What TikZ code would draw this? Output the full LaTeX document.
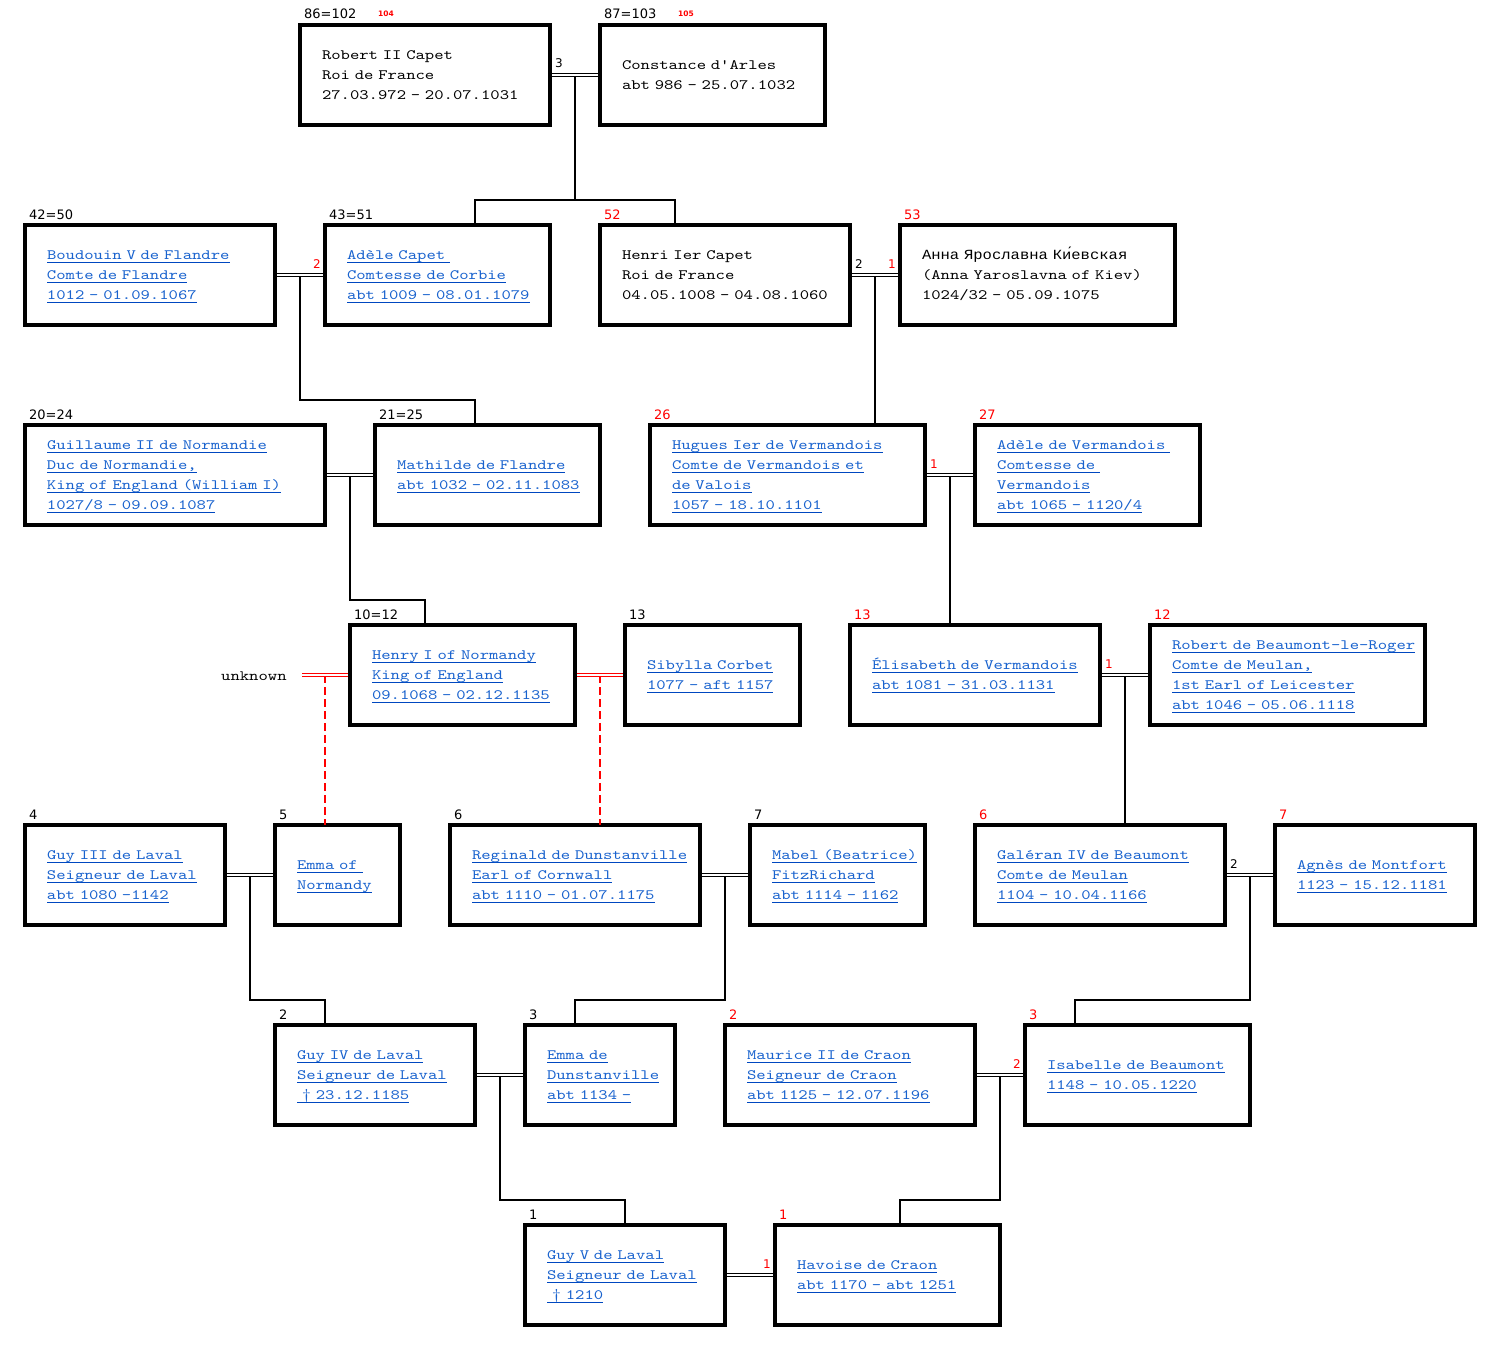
\documentclass[tikz,border=0pt]{standalone}
\usepackage{fontspec}
\setmonofont[FakeStretch=1.245]{lmmono10-regular.otf}
\setsansfont{DejaVu Sans}
\newfontfamily\cyrmono[FakeStretch=1.11]{Liberation Mono}
\usetikzlibrary{calc}
\definecolor{GedBlue}{RGB}{24,98,206}
\definecolor{GedLine}{RGB}{0,72,192}
\definecolor{GedRed}{RGB}{255,0,0}
\newsavebox\gedbox
\newcommand\gedstrut{\rule[-4.3pt]{0pt}{17.3pt}}
\newcommand\gedlink[1]{\sbox\gedbox{\color{GedBlue}#1}\gedstrut\rlap{\color{GedLine}\rule[-3.5pt]{\wd\gedbox}{1pt}}\usebox\gedbox}
\newcommand\gedtext[1]{\gedstrut\mbox{#1}}
\tikzset{
  ged/box/.style={
    draw=black,
    line width=3.5pt,
    anchor=north west,
    outer sep=0pt,
    minimum width=#1,
    minimum height=100pt,
    inner xsep=22pt,
    inner ysep=0pt,
    text width=#1-44pt,
    align=left,
    font=\ttfamily\fontsize{14.3}{20}\selectfont
  },
  ged/tag/.style={anchor=base west, inner sep=0pt, font=\sffamily\fontsize{13}{15}\selectfont},
  ged/tagred/.style={ged/tag, text=GedRed},
  ged/ref/.style={anchor=base west, inner sep=0pt, text=GedRed, font=\sffamily\bfseries\fontsize{7.5}{9}\selectfont},
  ged/ord/.style={inner sep=0pt, font=\sffamily\fontsize{12}{14}\selectfont},
  ged/plain/.style={inner sep=0pt, font=\ttfamily\fontsize{14.3}{20}\selectfont},
  ged/wed/.style={draw=black, line width=1pt, double=white, double distance=1.5pt, shorten <=1.75pt, shorten >=1.75pt},
  ged/wedred/.style={ged/wed, draw=GedRed},
  ged/drop/.style={draw=black, line width=1.8pt},
  ged/dropred/.style={draw=GedRed, line width=1.6pt, dash pattern=on 8pt off 4pt}
}

\begin{document}
\begin{tikzpicture}[x=1pt,y=-1pt]
  \path[use as bounding box, fill=white] (0,0) rectangle (1501,1351);

  % generation 6
  \node[ged/box=250pt] (robert) at (300,25) {\gedtext{Robert II Capet}\\\gedtext{Roi de France}\\\gedtext{27.03.972 - 20.07.1031}};
  \node[ged/box=225pt] (constance) at (600,25) {\gedtext{Constance d'Arles}\\\gedtext{abt 986 - 25.07.1032}};
  \node[ged/tag] (t86) at ([xshift=4pt,yshift=6pt]robert.north west) {86=102};
  \node[ged/ref] (r104) at ([xshift=78pt,yshift=8pt]robert.north west) {104};
  \node[ged/tag] (t87) at ([xshift=4pt,yshift=6pt]constance.north west) {87=103};
  \node[ged/ref] (r105) at ([xshift=78pt,yshift=8pt]constance.north west) {105};

  % generation 5
  \node[ged/box=250pt] (boudouin) at (25,225) {\gedlink{Boudouin V de Flandre}\\\gedlink{Comte de Flandre}\\\gedlink{1012 - 01.09.1067}};
  \node[ged/box=225pt] (adele) at (325,225) {\gedlink{Adèle Capet }\\\gedlink{Comtesse de Corbie}\\\gedlink{abt 1009 - 08.01.1079}};
  \node[ged/box=250pt] (henri) at (600,225) {\gedtext{Henri Ier Capet}\\\gedtext{Roi de France}\\\gedtext{04.05.1008 - 04.08.1060}};
  \node[ged/box=275pt] (anna) at (900,225) {\gedtext{\cyrmono\fontsize{14}{20}\selectfont Анна Ярославна Ки́евская}\\\gedtext{(Anna Yaroslavna of Kiev)}\\\gedtext{1024/32 - 05.09.1075}};
  \node[ged/tag] (t42) at ([xshift=4pt,yshift=6pt]boudouin.north west) {42=50};
  \node[ged/tag] (t43) at ([xshift=4pt,yshift=6pt]adele.north west) {43=51};
  \node[ged/tagred] (t52) at ([xshift=4pt,yshift=6pt]henri.north west) {52};
  \node[ged/tagred] (t53) at ([xshift=4pt,yshift=6pt]anna.north west) {53};

  % generation 4
  \node[ged/box=300pt] (guillaume) at (25,425) {\gedlink{Guillaume II de Normandie}\\\gedlink{Duc de Normandie,}\\\gedlink{King of England (William I)}\\\gedlink{1027/8 - 09.09.1087}};
  \node[ged/box=225pt] (mathilde) at (375,425) {\gedlink{Mathilde de Flandre}\\\gedlink{abt 1032 - 02.11.1083}};
  \node[ged/box=275pt] (hugues) at (650,425) {\gedlink{Hugues Ier de Vermandois}\\\gedlink{Comte de Vermandois et}\\\gedlink{de Valois}\\\gedlink{1057 - 18.10.1101}};
  \node[ged/box=225pt] (adelev) at (975,425) {\gedlink{Adèle de Vermandois }\\\gedlink{Comtesse de }\\\gedlink{Vermandois}\\\gedlink{abt 1065 - 1120/4}};
  \node[ged/tag] (t20) at ([xshift=4pt,yshift=6pt]guillaume.north west) {20=24};
  \node[ged/tag] (t21) at ([xshift=4pt,yshift=6pt]mathilde.north west) {21=25};
  \node[ged/tagred] (t26) at ([xshift=4pt,yshift=6pt]hugues.north west) {26};
  \node[ged/tagred] (t27) at ([xshift=4pt,yshift=6pt]adelev.north west) {27};

  % generation 3
  \node[ged/box=225pt] (henry) at (350,625) {\gedlink{Henry I of Normandy}\\\gedlink{King of England}\\\gedlink{09.1068 - 02.12.1135}};
  \node[ged/box=175pt] (sibylla) at (625,625) {\gedlink{Sibylla Corbet}\\\gedlink{1077 - aft 1157}};
  \node[ged/box=250pt] (elisabeth) at (850,625) {\gedlink{Élisabeth de Vermandois}\\\gedlink{abt 1081 - 31.03.1131}};
  \node[ged/box=275pt] (robertb) at (1150,625) {\gedlink{Robert de Beaumont-le-Roger}\\\gedlink{Comte de Meulan,}\\\gedlink{1st Earl of Leicester}\\\gedlink{abt 1046 - 05.06.1118}};
  \node[ged/tag] (t10) at ([xshift=4pt,yshift=6pt]henry.north west) {10=12};
  \node[ged/tag] (t13) at ([xshift=4pt,yshift=6pt]sibylla.north west) {13};
  \node[ged/tagred] (t13r) at ([xshift=4pt,yshift=6pt]elisabeth.north west) {13};
  \node[ged/tagred] (t12) at ([xshift=4pt,yshift=6pt]robertb.north west) {12};
  \node[ged/plain, anchor=base west] (unknown) at (221,680) {unknown};
  \coordinate (unk) at (300,675);

  % generation 2
  \node[ged/box=200pt] (guy3) at (25,825) {\gedlink{Guy III de Laval}\\\gedlink{Seigneur de Laval}\\\gedlink{abt 1080 -1142}};
  \node[ged/box=125pt] (emma) at (275,825) {\gedlink{Emma of }\\\gedlink{Normandy}};
  \node[ged/box=250pt] (reginald) at (450,825) {\gedlink{Reginald de Dunstanville}\\\gedlink{Earl of Cornwall}\\\gedlink{abt 1110 - 01.07.1175}};
  \node[ged/box=175pt] (mabel) at (750,825) {\gedlink{Mabel (Beatrice)}\\\gedlink{FitzRichard}\\\gedlink{abt 1114 - 1162}};
  \node[ged/box=250pt] (galeran) at (975,825) {\gedlink{Galéran IV de Beaumont}\\\gedlink{Comte de Meulan}\\\gedlink{1104 - 10.04.1166}};
  \node[ged/box=200pt] (agnes) at (1275,825) {\gedlink{Agnès de Montfort}\\\gedlink{1123 - 15.12.1181}};
  \node[ged/tag] (t4) at ([xshift=4pt,yshift=6pt]guy3.north west) {4};
  \node[ged/tag] (t5) at ([xshift=4pt,yshift=6pt]emma.north west) {5};
  \node[ged/tag] (t6) at ([xshift=4pt,yshift=6pt]reginald.north west) {6};
  \node[ged/tag] (t7) at ([xshift=4pt,yshift=6pt]mabel.north west) {7};
  \node[ged/tagred] (t6r) at ([xshift=4pt,yshift=6pt]galeran.north west) {6};
  \node[ged/tagred] (t7r) at ([xshift=4pt,yshift=6pt]agnes.north west) {7};

  % generation 1
  \node[ged/box=200pt] (guy4) at (275,1025) {\gedlink{Guy IV de Laval}\\\gedlink{Seigneur de Laval}\\\gedlink{\ † 23.12.1185}};
  \node[ged/box=150pt] (emmad) at (525,1025) {\gedlink{Emma de}\\\gedlink{Dunstanville}\\\gedlink{abt 1134 -}};
  \node[ged/box=250pt] (maurice) at (725,1025) {\gedlink{Maurice II de Craon}\\\gedlink{Seigneur de Craon}\\\gedlink{abt 1125 - 12.07.1196}};
  \node[ged/box=225pt] (isabelle) at (1025,1025) {\gedlink{Isabelle de Beaumont}\\\gedlink{1148 - 10.05.1220}};
  \node[ged/tag] (t2) at ([xshift=4pt,yshift=6pt]guy4.north west) {2};
  \node[ged/tag] (t3) at ([xshift=4pt,yshift=6pt]emmad.north west) {3};
  \node[ged/tagred] (t2r) at ([xshift=4pt,yshift=6pt]maurice.north west) {2};
  \node[ged/tagred] (t3r) at ([xshift=4pt,yshift=6pt]isabelle.north west) {3};

  % generation 0
  \node[ged/box=200pt] (guyv) at (525,1225) {\gedlink{Guy V de Laval}\\\gedlink{Seigneur de Laval}\\\gedlink{\ † 1210}};
  \node[ged/box=225pt] (havoise) at (775,1225) {\gedlink{Havoise de Craon}\\\gedlink{abt 1170 - abt 1251}};
  \node[ged/tag] (t1) at ([xshift=4pt,yshift=6pt]guyv.north west) {1};
  \node[ged/tagred] (t1r) at ([xshift=4pt,yshift=6pt]havoise.north west) {1};

  % marriages
  \coordinate (mRC) at ($(robert.east)!0.5!(constance.west)$);
  \coordinate (mBA) at ($(boudouin.east)!0.5!(adele.west)$);
  \coordinate (mHA) at ($(henri.east)!0.5!(anna.west)$);
  \coordinate (mGM) at ($(guillaume.east)!0.5!(mathilde.west)$);
  \coordinate (mHV) at ($(hugues.east)!0.5!(adelev.west)$);
  \coordinate (mUH) at ($(unk)!0.5!(henry.west)$);
  \coordinate (mHS) at ($(henry.east)!0.5!(sibylla.west)$);
  \coordinate (mER) at ($(elisabeth.east)!0.5!(robertb.west)$);
  \coordinate (mGE) at ($(guy3.east)!0.5!(emma.west)$);
  \coordinate (mRM) at ($(reginald.east)!0.5!(mabel.west)$);
  \coordinate (mGA) at ($(galeran.east)!0.5!(agnes.west)$);
  \coordinate (mGD) at ($(guy4.east)!0.5!(emmad.west)$);
  \coordinate (mMI) at ($(maurice.east)!0.5!(isabelle.west)$);

  % descent
  \draw[ged/drop] (mRC) -- ++(0,125) -| ([xshift=150pt]adele.north west);
  \draw[ged/drop] (mRC) -- ++(0,125) -| ([xshift=75pt]henri.north west);
  \draw[ged/drop] (mBA) -- ++(0,125) -| ([xshift=100pt]mathilde.north west);
  \draw[ged/drop] (mHA) -- ([xshift=225pt]hugues.north west);
  \draw[ged/drop] (mGM) -- ++(0,125) -| ([xshift=75pt]henry.north west);
  \draw[ged/drop] (mHV) -- ([xshift=100pt]elisabeth.north west);
  \draw[ged/dropred] (mUH) -- ([xshift=50pt]emma.north west);
  \draw[ged/dropred] (mHS) -- ([xshift=150pt]reginald.north west);
  \draw[ged/drop] (mER) -- ([xshift=150pt]galeran.north west);
  \draw[ged/drop] (mGE) -- ++(0,125) -| ([xshift=50pt]guy4.north west);
  \draw[ged/drop] (mRM) -- ++(0,125) -| ([xshift=50pt]emmad.north west);
  \draw[ged/drop] (mGA) -- ++(0,125) -| ([xshift=50pt]isabelle.north west);
  \draw[ged/drop] (mGD) -- ++(0,125) -| ([xshift=100pt]guyv.north west);
  \draw[ged/drop] (mMI) -- ++(0,125) -| ([xshift=125pt]havoise.north west);

  \draw[ged/wed] (robert.east) -- (constance.west);
  \draw[ged/wed] (boudouin.east) -- (adele.west);
  \draw[ged/wed] (henri.east) -- (anna.west);
  \draw[ged/wed] (guillaume.east) -- (mathilde.west);
  \draw[ged/wed] (hugues.east) -- (adelev.west);
  \draw[ged/wedred] (unk) -- (henry.west);
  \draw[ged/wedred] (henry.east) -- (sibylla.west);
  \draw[ged/wed] (elisabeth.east) -- (robertb.west);
  \draw[ged/wed] (guy3.east) -- (emma.west);
  \draw[ged/wed] (reginald.east) -- (mabel.west);
  \draw[ged/wed] (galeran.east) -- (agnes.west);
  \draw[ged/wed] (guy4.east) -- (emmad.west);
  \draw[ged/wed] (maurice.east) -- (isabelle.west);
  \draw[ged/wed] (guyv.east) -- (havoise.west);

  % marriage order
  \node[ged/ord, anchor=base west] (o3) at ([xshift=5pt,yshift=7pt]robert.east) {3};
  \node[ged/ord, anchor=base east, text=GedRed] (o2a) at ([xshift=-4pt,yshift=7pt]adele.west) {2};
  \node[ged/ord, anchor=base west] (o2h) at ([xshift=5pt,yshift=7pt]henri.east) {2};
  \node[ged/ord, anchor=base east, text=GedRed] (o1a) at ([xshift=-4pt,yshift=7pt]anna.west) {1};
  \node[ged/ord, anchor=base west, text=GedRed] (o1h) at ([xshift=5pt,yshift=7pt]hugues.east) {1};
  \node[ged/ord, anchor=base west, text=GedRed] (o1e) at ([xshift=5pt,yshift=7pt]elisabeth.east) {1};
  \node[ged/ord, anchor=base west] (o2g) at ([xshift=5pt,yshift=7pt]galeran.east) {2};
  \node[ged/ord, anchor=base east, text=GedRed] (o2i) at ([xshift=-4pt,yshift=7pt]isabelle.west) {2};
  \node[ged/ord, anchor=base east, text=GedRed] (o1v) at ([xshift=-4pt,yshift=7pt]havoise.west) {1};
\end{tikzpicture}
\end{document}
